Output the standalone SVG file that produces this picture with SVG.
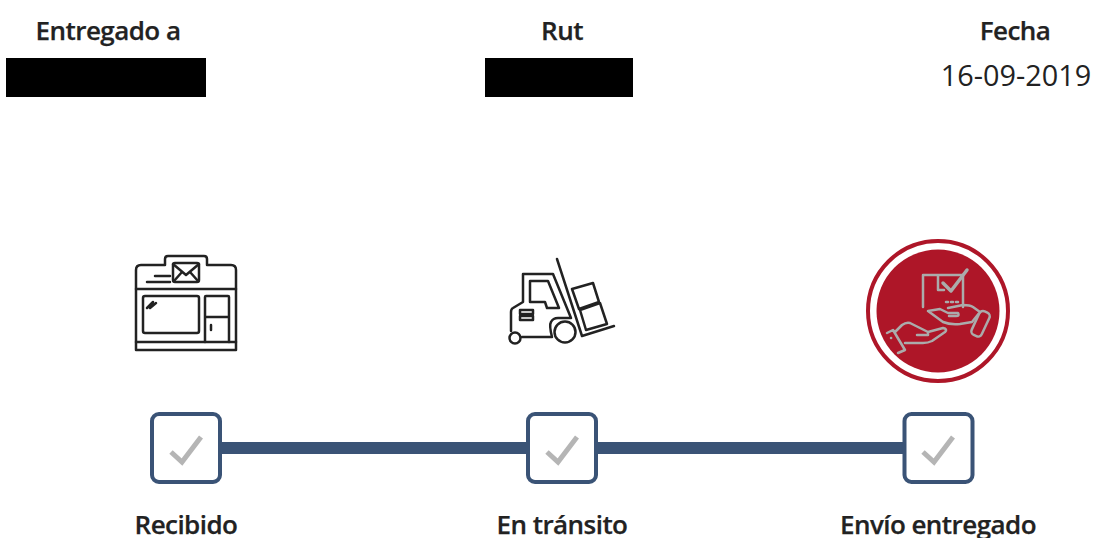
<svg xmlns="http://www.w3.org/2000/svg" width="1095" height="538" viewBox="0 0 1095 538">
<style>
text{font-family:"Open Sans","Noto Sans","Liberation Sans",sans-serif;fill:#222;text-anchor:middle}
.b{font-size:26px;font-weight:600;letter-spacing:-.55px;stroke:#222;stroke-width:.25px}
.ic{fill:none;stroke:#222;stroke-width:2.5;stroke-linejoin:round;stroke-linecap:round}
.w{fill:none;stroke:#ababab;stroke-width:2.5;stroke-linejoin:round;stroke-linecap:round}
.box{fill:#fff;stroke:#3a5376;stroke-width:4}
.chk{fill:none;stroke:#b5b5b5;stroke-width:5;stroke-linejoin:miter}
</style>
<g id="header-entregado"><text class="b" x="108" y="40">Entregado a</text><rect x="6" y="58" width="200" height="39" fill="#000"/></g>
<g id="header-rut"><text class="b" x="562" y="40">Rut</text><rect x="485" y="58" width="148" height="39" fill="#000"/></g>
<g id="header-fecha"><text class="b" x="1015" y="40">Fecha</text><text x="1016" y="86" font-size="28.800">16-09-2019</text></g>
<g id="connectors"><rect x="220" y="442" width="308" height="12" fill="#3a5376"/><rect x="596" y="442" width="308" height="12" fill="#3a5376"/></g>
<g id="node-recibido">
<g class="ic">
<path d="M136 350V270Q136 265 141 265H165V259Q165 256 168 256H204Q207 256 207 259V265H231Q236 265 236 270V350Z"/>
<path d="M136 289H236M136 342H236"/>
<rect x="173" y="263" width="26" height="19" rx="2"/><path d="M173 264L186 275L199 264M174 281L182 272M198 281L190 272"/>
<path d="M147 282H170M155 276H170"/>
<rect x="143" y="296" width="56" height="37" rx="2"/><path d="M147 308L153 302M150 308L156 303"/>
<path d="M205 342V297Q205 296 206 296H228Q229 296 229 297V342M205 317H229M211 325V330"/>
</g>
<rect class="box" x="152" y="414" width="68" height="68" rx="7"/><path class="chk" d="M171 452L182 462L201 437"/>
<text class="b" x="186" y="534">Recibido</text>
</g>
<g id="node-transito">
<g class="ic">
<path d="M557 259L582 336L614 326"/>
<path d="M572 289L593 283L599 302L579 309ZM580 310L600 303L607 324L586 330Z"/>
<path d="M571 318L553 274H523V302L513 308Q511 309 511 312V331M522 337H552Q549 325 551 322Q553 318 558 318H571"/>
<circle cx="565" cy="332" r="10.500"/>
<path d="M530 281V302H545L547 308H559L548 281Z"/>
<rect x="520" y="310" width="13" height="4"/><rect x="520" y="316" width="13" height="4"/>
<circle cx="515" cy="338" r="5.500"/>
</g>
<rect class="box" x="528" y="414" width="68" height="68" rx="7"/><path class="chk" d="M547 452L558 462L577 437"/>
<text class="b" x="562" y="534">En tránsito</text>
</g>
<g id="node-entregado">
<circle cx="938" cy="311" r="70" fill="#fff" stroke="#ae1628" stroke-width="4"/>
<circle cx="938" cy="311" r="61.500" fill="#ae1628"/>
<g class="w">
<path d="M963 287V275H923V307M963 287V307M938 275V290H944"/>
<path d="M943 283L951 291L967 270" stroke-width="3.500"/>
<path d="M946 302H948M951 302H953M956 302H958"/>
<path d="M928 311L943 322Q950 325 960 324L972 322L980 312M928 311L940 309L948 313H958Q960 316 956 316H949M948 308L963 305Q970 305 973 307L980 312"/>
<rect x="975" y="311" width="11" height="26" rx="4" transform="rotate(25 981 324)"/>
<path d="M887 333L893 330L905 350L898 353M895 332L902 325Q906 322 910 323L920 328L928 332L943 328Q948 329 945 332L932 341Q928 343 923 343H905M917 335H928V332"/>
<path d="M891 338H891.100"/>
</g>
<rect class="box" x="904.500" y="414" width="68" height="68" rx="7"/><path class="chk" d="M923 452L934 462L953 437"/>
<text class="b" x="938" y="534">Envío entregado</text>
</g>
</svg>
